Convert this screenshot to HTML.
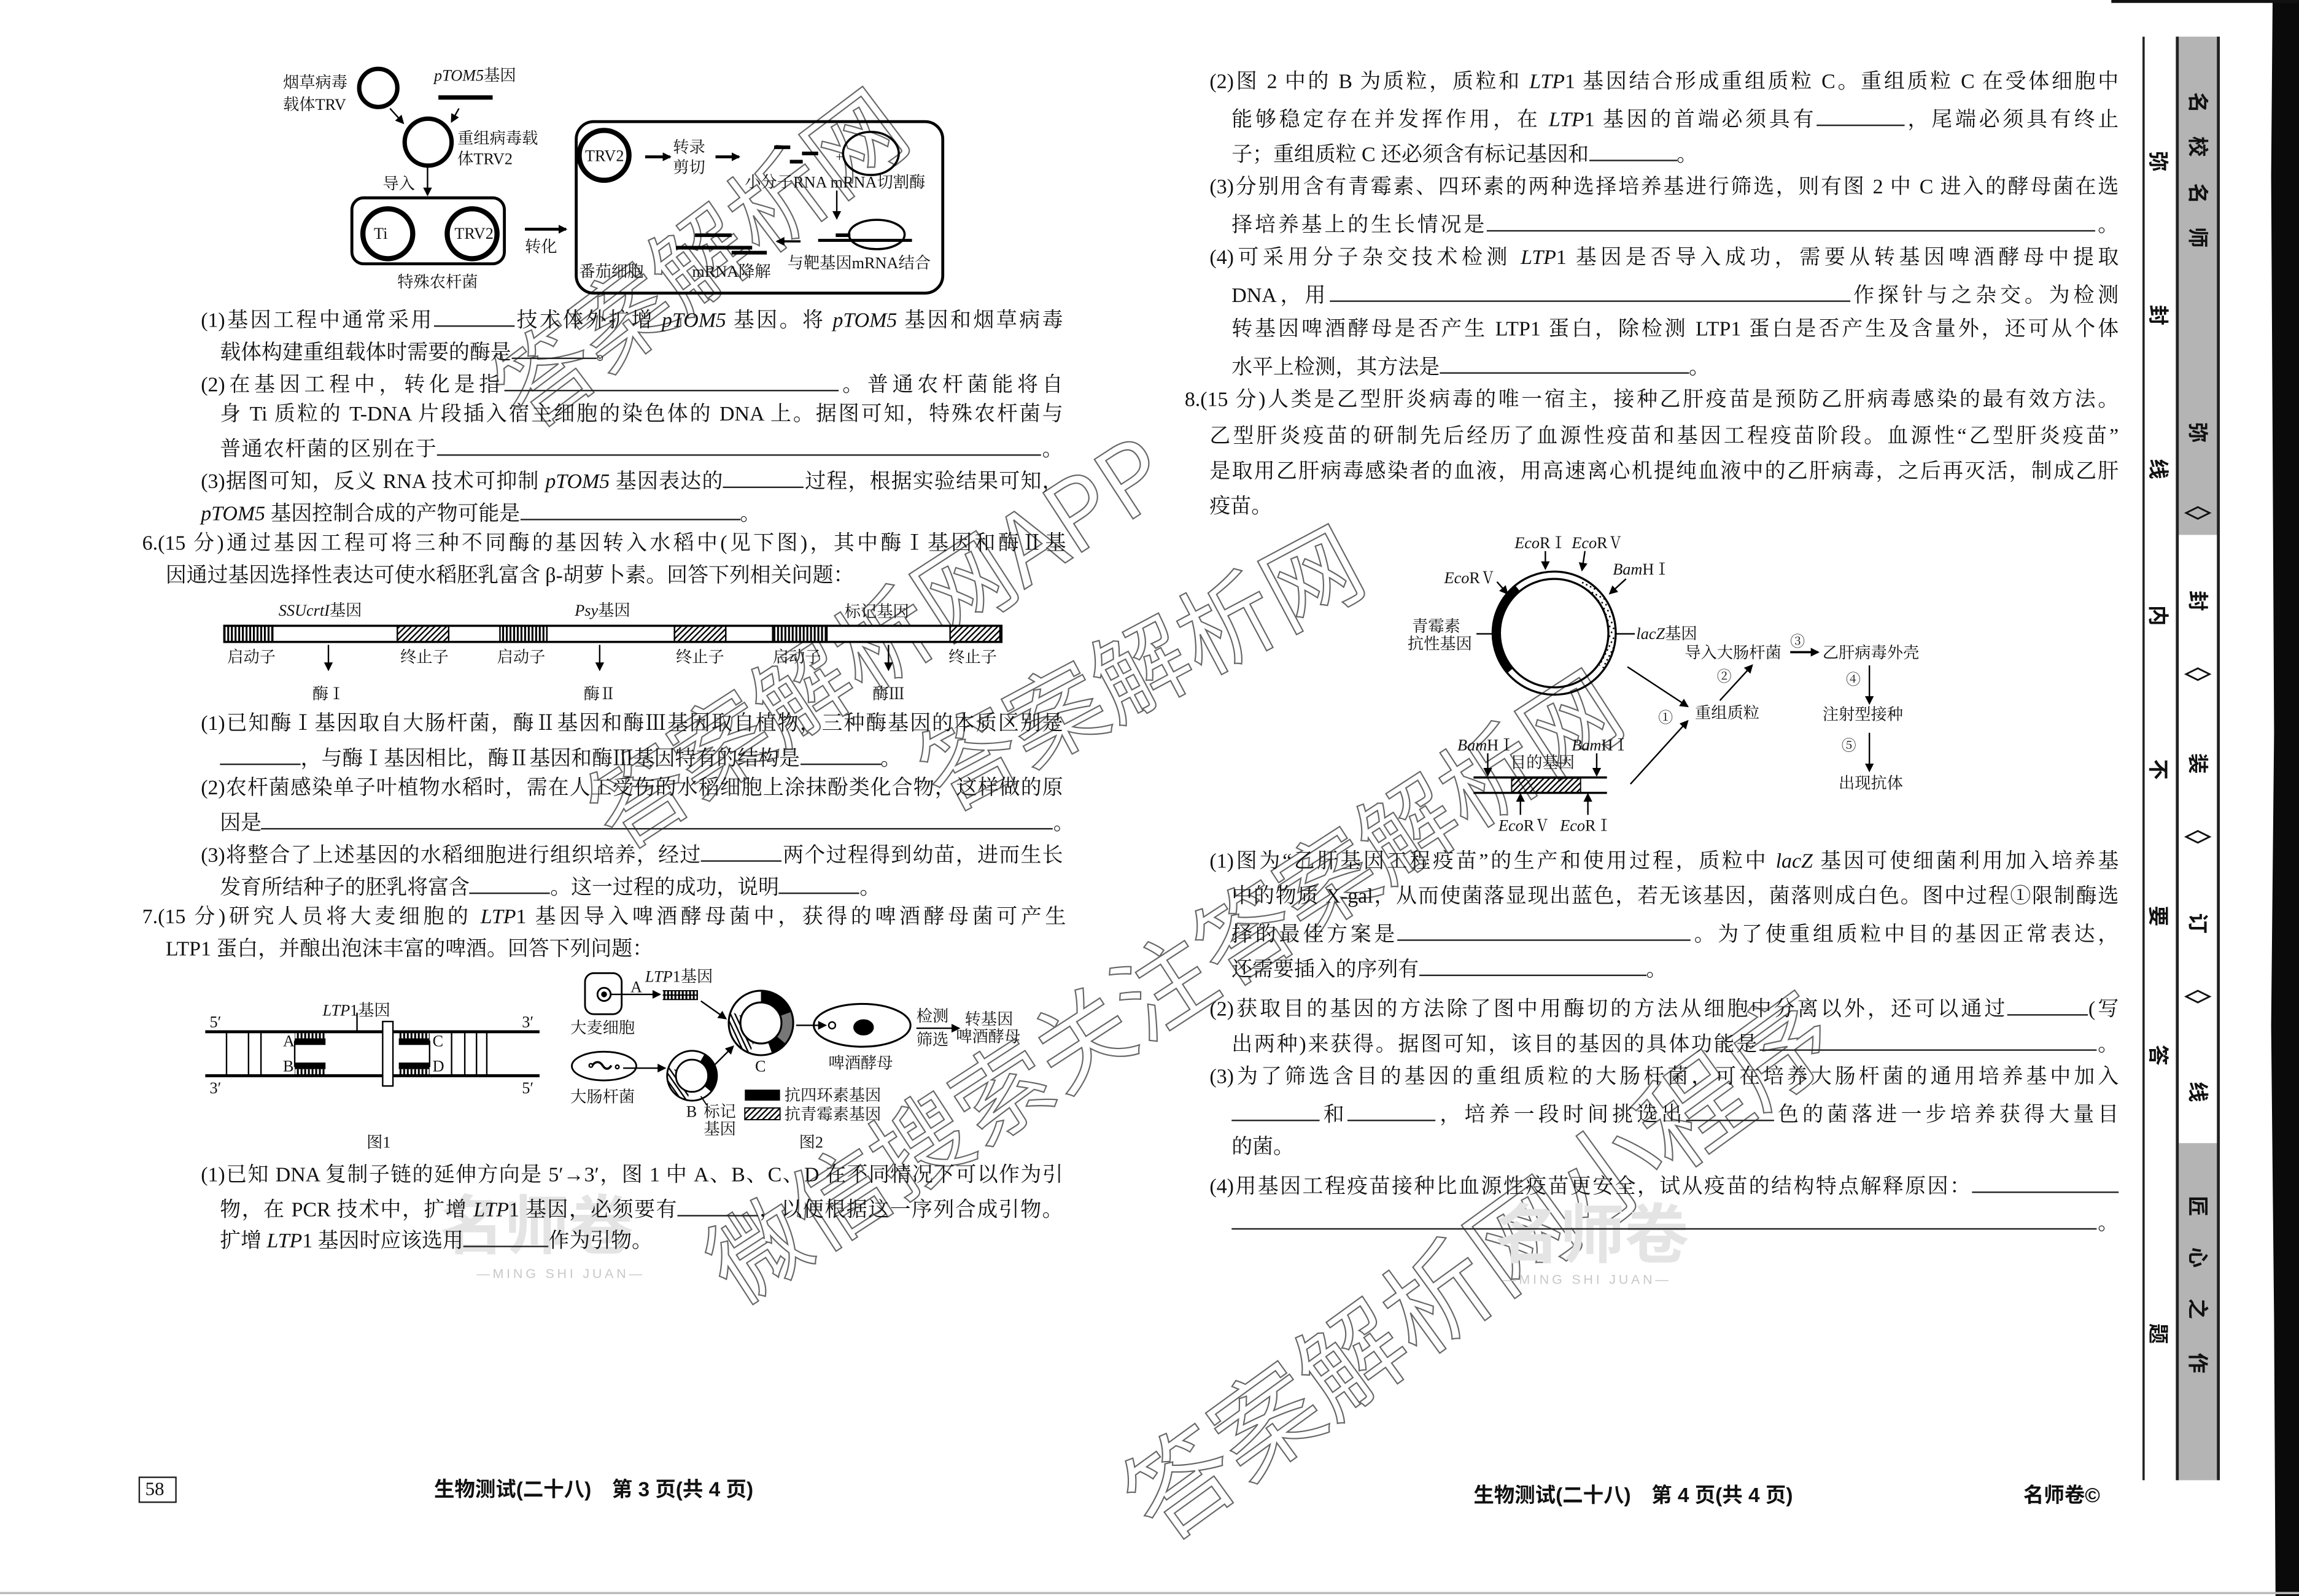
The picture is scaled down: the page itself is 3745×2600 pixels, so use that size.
<!DOCTYPE html>
<html><head><meta charset="utf-8">
<style>
html,body{margin:0;padding:0;background:#fff;}
body{width:3745px;height:2600px;overflow:hidden;position:relative;}
#s{position:absolute;left:0;top:0;width:1568px;height:1089px;transform:scale(2.38839,2.38751);transform-origin:0 0;font-family:"Liberation Serif","Noto Serif CJK SC",serif;color:#111;}
.t{position:absolute;white-space:nowrap;font-size:14.2px;line-height:18px;height:18px;}
.j{text-align:justify;text-align-last:justify;}
.b{display:inline-block;border-bottom:1px solid #222;height:14px;vertical-align:baseline;}
i{font-style:italic;}
svg{position:absolute;left:0;top:0;}
.sb{position:absolute;font-family:"Liberation Sans","Noto Sans CJK SC",sans-serif;font-size:14px;font-weight:bold;transform:rotate(90deg);width:16px;text-align:center;line-height:16px;}
.band{position:absolute;left:1485px;width:28px;}
</style></head><body><div id="s">

<svg width="1568" height="1089" viewBox="0 0 1568 1089" font-family="Liberation Serif, Noto Serif CJK SC, serif">
<defs>
<pattern id="h" width="4" height="4" patternUnits="userSpaceOnUse"><path d="M-1,1 l2,-2 M0,4 l4,-4 M3,5 l2,-2" stroke="#000" stroke-width="1"/></pattern>
<pattern id="v" width="2.5" height="4" patternUnits="userSpaceOnUse"><rect width="1.3" height="4" fill="#000"/></pattern>
<pattern id="d" width="3" height="3" patternUnits="userSpaceOnUse"><rect width="3" height="3" fill="#fff"/><circle cx="1.5" cy="1.5" r="0.6" fill="#000"/></pattern>
<marker id="a" markerWidth="6" markerHeight="6" refX="5" refY="3" orient="auto" markerUnits="userSpaceOnUse"><path d="M0,0 L6,3 L0,6 z" fill="#000"/></marker>
</defs>

<g font-family="Noto Sans CJK SC, sans-serif" fill="none" stroke="#666" stroke-width="0.9" font-size="66">
<text x="480" y="200" text-anchor="middle" transform="rotate(-37 480 180)">答案解析网</text>
<text x="600" y="462" text-anchor="middle" transform="rotate(-33 600 440)">答案解析网APP</text>
<text x="780" y="480" text-anchor="middle" transform="rotate(-28 780 460)">答案解析网</text>
<text x="795" y="697" text-anchor="middle" transform="rotate(-33 795 675)">微信搜索关注答案解析网</text>
<text x="1010" y="890" text-anchor="middle" font-size="72" transform="rotate(-36 1010 865)">答案解析网小程序</text>
</g>
<g fill="#e4e4e4" font-family="Noto Sans CJK SC, sans-serif" font-weight="bold">
<text x="300" y="852" font-size="44">名师卷</text>
<text x="1020" y="858" font-size="44">名师卷</text>
</g>
<g fill="#c8c8c8" font-family="Liberation Sans, sans-serif" font-size="9" letter-spacing="2">
<text x="325" y="872">—MING SHI JUAN—</text>
<text x="1025" y="876">—MING SHI JUAN—</text>
</g>

<g stroke="#000" fill="none">
<circle cx="258" cy="60" r="13" stroke-width="3"/>
<line x1="299" y1="66.5" x2="336" y2="66.5" stroke-width="3"/>
<line x1="266" y1="74" x2="275" y2="84" marker-end="url(#a)"/>
<line x1="313" y1="74" x2="308" y2="83" marker-end="url(#a)"/>
<circle cx="292" cy="97" r="16" stroke-width="3"/>
<line x1="291.6" y1="114" x2="291.6" y2="133" marker-end="url(#a)"/>
<rect x="240" y="135" width="104" height="45" rx="8" stroke-width="2"/>
<circle cx="264.5" cy="159.5" r="17" stroke-width="3.5"/>
<circle cx="322" cy="159.5" r="17" stroke-width="3.5"/>
<line x1="358" y1="156.4" x2="386" y2="156.4" stroke-width="2" marker-end="url(#a)"/>
<rect x="393" y="83" width="250" height="117" rx="12" stroke-width="2"/>
<circle cx="412" cy="106" r="17" stroke-width="3.5"/>
<line x1="440" y1="107" x2="457" y2="107" stroke-width="2" marker-end="url(#a)"/>
<line x1="488" y1="107" x2="504" y2="107" stroke-width="2" marker-end="url(#a)"/>
<g stroke-width="2.5"><line x1="528" y1="100.5" x2="539" y2="100.5"/><line x1="547" y1="104.7" x2="558" y2="104.7"/><line x1="538.7" y1="110.3" x2="547.5" y2="110.3"/></g>
<ellipse cx="594" cy="104.7" rx="19" ry="14.7" stroke-width="1.5"/>
<line x1="570.7" y1="130" x2="570.7" y2="149" marker-end="url(#a)"/>
<ellipse cx="598" cy="160" rx="19" ry="10" stroke-width="1.5"/>
<line x1="558" y1="164" x2="622" y2="164" stroke-width="2"/>
<line x1="570" y1="160.5" x2="580" y2="160.5" stroke-width="2.5"/>
<line x1="546" y1="164.7" x2="530" y2="164.7" stroke-width="1.5" marker-end="url(#a)"/>
<g stroke-width="2.5"><line x1="474" y1="160.5" x2="499" y2="160.5"/><line x1="461" y1="169" x2="513" y2="169"/><line x1="499" y1="172.4" x2="523" y2="172.4"/></g>
</g>
<g font-size="11" fill="#111">
<text x="193" y="60">烟草病毒</text><text x="193" y="75">载体TRV</text>
<text x="296" y="55" font-style="italic">pTOM5<tspan font-style="normal">基因</tspan></text>
<text x="312" y="98">重组病毒载</text><text x="312" y="112">体TRV2</text>
<text x="261" y="129">导入</text>
<text x="255" y="163">Ti</text><text x="310" y="163">TRV2</text>
<text x="271" y="196">特殊农杆菌</text>
<text x="358" y="172">转化</text>
<text x="399" y="110">TRV2</text>
<text x="459" y="104">转录</text><text x="459" y="118">剪切</text>
<text x="570" y="110" font-size="9">+</text>
<text x="508" y="128">小分子RNA mRNA切割酶</text>
<text x="395" y="189">番茄细胞</text>
<text x="472" y="189">mRNA降解</text>
<text x="537" y="183">与靶基因mRNA结合</text>
</g>

<rect x="153" y="427" width="530" height="11" fill="#fff" stroke="#000" stroke-width="1.5"/>
<g stroke="#000" stroke-width="1">
<rect x="153" y="427" width="33" height="11" fill="url(#v)"/>
<rect x="341" y="427" width="32" height="11" fill="url(#v)"/>
<rect x="527" y="427" width="37" height="11" fill="url(#v)"/>
<rect x="271" y="427" width="35" height="11" fill="url(#h)"/>
<rect x="460" y="427" width="35" height="11" fill="url(#h)"/>
<rect x="648" y="427" width="34" height="11" fill="url(#h)"/>
<line x1="224" y1="440" x2="224" y2="457" marker-end="url(#a)"/>
<line x1="409" y1="440" x2="409" y2="457" marker-end="url(#a)"/>
<line x1="606" y1="440" x2="606" y2="457" marker-end="url(#a)"/>
</g>
<g font-size="11" fill="#111">
<text x="190" y="420" font-style="italic">SSUcrtI<tspan font-style="normal">基因</tspan></text>
<text x="392" y="420" font-style="italic">Psy<tspan font-style="normal">基因</tspan></text>
<text x="576" y="421">标记基因</text>
<text x="155" y="452">启动子</text><text x="273" y="452">终止子</text>
<text x="339" y="452">启动子</text><text x="461" y="452">终止子</text>
<text x="527" y="452">启动子</text><text x="647" y="452">终止子</text>
<text x="213" y="477">酶Ⅰ</text><text x="398" y="477">酶Ⅱ</text><text x="595" y="477">酶Ⅲ</text>
</g>

<g stroke="#000">
<line x1="140" y1="704" x2="368" y2="704" stroke-width="2"/>
<line x1="140" y1="734" x2="368" y2="734" stroke-width="2"/>
<g stroke-width="1">
<line x1="154.5" y1="704" x2="154.5" y2="734"/><line x1="169.5" y1="704" x2="169.5" y2="734"/><line x1="178" y1="704" x2="178" y2="734"/>
<line x1="308" y1="704" x2="308" y2="734"/><line x1="317" y1="704" x2="317" y2="734"/><line x1="325" y1="704" x2="325" y2="734"/><line x1="332" y1="704" x2="332" y2="734"/>
<line x1="201" y1="710" x2="201" y2="728"/><line x1="293" y1="710" x2="293" y2="728"/>
<line x1="243.5" y1="691" x2="243.5" y2="704"/>
</g>
<rect x="201" y="705" width="21" height="3.5" fill="url(#v)" stroke="none"/>
<rect x="201" y="708.5" width="21" height="4.5" fill="#000" stroke="none"/>
<rect x="201" y="725" width="21" height="4.5" fill="#000" stroke="none"/>
<rect x="201" y="729.5" width="21" height="3.5" fill="url(#v)" stroke="none"/>
<rect x="272" y="705" width="21" height="3.5" fill="url(#v)" stroke="none"/>
<rect x="272" y="708.5" width="21" height="4.5" fill="#000" stroke="none"/>
<rect x="272" y="725" width="21" height="4.5" fill="#000" stroke="none"/>
<rect x="272" y="729.5" width="21" height="3.5" fill="url(#v)" stroke="none"/>
<rect x="261" y="697" width="7" height="44" fill="#fff" stroke-width="1"/>
</g>
<g font-size="11" fill="#111">
<text x="143" y="701">5′</text><text x="356" y="701">3′</text>
<text x="143" y="746">3′</text><text x="356" y="746">5′</text>
<text x="193" y="714">A</text><text x="193" y="731">B</text>
<text x="295" y="714">C</text><text x="295" y="731">D</text>
<text x="220" y="693"><tspan font-style="italic">LTP</tspan>1基因</text>
<text x="250" y="783">图1</text>
</g>

<g stroke="#000" fill="none">
<rect x="399" y="664" width="25" height="28" rx="6" stroke-width="1.2"/>
<circle cx="412" cy="678.5" r="4.5" stroke-width="1.2"/><circle cx="412" cy="678.5" r="1.5" fill="#000"/>
<line x1="417" y1="678.5" x2="450" y2="678.5" marker-end="url(#a)"/>
<rect x="452" y="676" width="24" height="6" fill="url(#v)" stroke="none"/>
<line x1="452" y1="676" x2="476" y2="676" stroke-width="0.8"/><line x1="452" y1="679" x2="476" y2="679" stroke-width="0.8"/><line x1="452" y1="682" x2="476" y2="682" stroke-width="0.8"/>
<line x1="478" y1="683" x2="495" y2="695" marker-end="url(#a)"/>
<circle cx="519" cy="698" r="18" stroke="#fff" stroke-width="8"/>
<circle cx="519" cy="698" r="18" stroke="#000" stroke-width="8" stroke-dasharray="22 200" transform="rotate(-90 519 698)"/>
<circle cx="519" cy="698" r="18" stroke="#777" stroke-width="8" stroke-dasharray="18.8 200" transform="rotate(-20 519 698)"/>
<circle cx="519" cy="698" r="18" stroke="#000" stroke-width="8" stroke-dasharray="9.4 200" transform="rotate(40 519 698)"/>
<circle cx="519" cy="698" r="18" stroke="url(#h)" stroke-width="8" stroke-dasharray="28.3 200" transform="rotate(110 519 698)"/>
<circle cx="519" cy="698" r="22" stroke-width="1.3"/><circle cx="519" cy="698" r="14" stroke-width="1.3"/>
<line x1="543" y1="699.6" x2="563" y2="699.6" marker-end="url(#a)"/>
<circle cx="567.5" cy="699.6" r="2.3" stroke-width="1"/>
<ellipse cx="588" cy="699.6" rx="33" ry="14.6" stroke-width="1.3"/>
<ellipse cx="589" cy="701" rx="6.5" ry="5" fill="#000"/>
<line x1="625" y1="701.6" x2="654" y2="701.6" marker-end="url(#a)"/>
<ellipse cx="412" cy="727.4" rx="22" ry="9.8" stroke-width="1.2"/>
<path d="M404,727 c2,-3 5,-3 7,0 s4,3 6,0" stroke-width="1.5"/><circle cx="403" cy="727" r="1.2"/><circle cx="421" cy="728" r="1.2"/>
<line x1="425" y1="728.8" x2="453.5" y2="728.8" marker-end="url(#a)"/>
<circle cx="472" cy="734" r="14" stroke="#000" stroke-width="6" stroke-dasharray="24.4 200" transform="rotate(-60 472 734)"/>
<circle cx="472" cy="734" r="14" stroke="url(#h)" stroke-width="6" stroke-dasharray="24.4 200" transform="rotate(100 472 734)"/>
<circle cx="472" cy="734" r="17" stroke-width="1.2"/><circle cx="472" cy="734" r="11" stroke-width="1.2"/>
<line x1="487" y1="727" x2="500" y2="714" marker-end="url(#a)"/>
<line x1="478" y1="748" x2="482" y2="754" stroke-width="0.8"/>
<rect x="508" y="743.5" width="24" height="7.5" fill="#000" stroke="none"/>
<rect x="508" y="756" width="24" height="8" fill="url(#h)" stroke-width="0.8"/>
</g>
<g font-size="11" fill="#111">
<text x="430" y="677">A</text>
<text x="440" y="670"><tspan font-style="italic">LTP</tspan>1基因</text>
<text x="389" y="705">大麦细胞</text>
<text x="389" y="752">大肠杆菌</text>
<text x="515" y="731">C</text>
<text x="565" y="729">啤酒酵母</text>
<text x="625" y="697">检测</text><text x="625" y="713">筛选</text>
<text x="658" y="699">转基因</text><text x="652" y="711">啤酒酵母</text>
<text x="468" y="762">B</text><text x="480" y="762">标记</text><text x="480" y="774">基因</text>
<text x="535" y="751">抗四环素基因</text><text x="535" y="764">抗青霉素基因</text>
<text x="545" y="783">图2</text>
</g>

<g stroke="#000" fill="none">
<circle cx="1060" cy="432" r="39.5" stroke="#000" stroke-width="5" stroke-dasharray="62.9 400" transform="rotate(139.5 1060 432)"/>
<circle cx="1060" cy="432" r="39.5" stroke="url(#d)" stroke-width="5" stroke-dasharray="67.7 400" transform="rotate(-62.6 1060 432)"/>
<circle cx="1060" cy="432" r="42" stroke-width="1.4"/><circle cx="1060" cy="432" r="37" stroke-width="1.4"/>
<line x1="1054" y1="376" x2="1054" y2="388" marker-end="url(#a)"/>
<line x1="1081" y1="376" x2="1079" y2="389" marker-end="url(#a)"/>
<line x1="1021" y1="397" x2="1028" y2="405" marker-end="url(#a)"/>
<line x1="1109" y1="395" x2="1098" y2="405" marker-end="url(#a)"/>
<line x1="1007" y1="432.5" x2="1018" y2="432.5"/>
<line x1="1102" y1="432.5" x2="1115" y2="432.5"/>
<line x1="1221" y1="445" x2="1240" y2="445" stroke-width="1.5" marker-end="url(#a)"/>
<line x1="1275" y1="454" x2="1275" y2="480" marker-end="url(#a)"/>
<line x1="1275" y1="500" x2="1275" y2="526" marker-end="url(#a)"/>
<line x1="1110" y1="455" x2="1151" y2="482" marker-end="url(#a)"/>
<line x1="1112" y1="535" x2="1151" y2="492" marker-end="url(#a)"/>
<line x1="1173" y1="478" x2="1195" y2="454" marker-end="url(#a)"/>
<line x1="1005" y1="530.5" x2="1096" y2="530.5" stroke-width="1.5"/>
<line x1="1005" y1="541" x2="1096" y2="541" stroke-width="1.5"/>
<rect x="1031" y="531" width="47" height="10" fill="url(#h)" stroke-width="0.8"/>
<line x1="1014.7" y1="514" x2="1014.7" y2="529" marker-end="url(#a)"/>
<line x1="1089" y1="514" x2="1089" y2="529" marker-end="url(#a)"/>
<line x1="1037" y1="556" x2="1037" y2="542" marker-end="url(#a)"/>
<line x1="1083" y1="556" x2="1083" y2="542" marker-end="url(#a)"/>
</g>
<g font-size="11" fill="#111">
<text x="1033" y="374"><tspan font-style="italic">Eco</tspan>RⅠ</text>
<text x="1072" y="374"><tspan font-style="italic">Eco</tspan>RⅤ</text>
<text x="985" y="398"><tspan font-style="italic">Eco</tspan>RⅤ</text>
<text x="1100" y="392"><tspan font-style="italic">Bam</tspan>HⅠ</text>
<text x="963" y="431">青霉素</text><text x="960" y="443">抗性基因</text>
<text x="1116" y="436"><tspan font-style="italic">lacZ</tspan>基因</text>
<text x="1149" y="449">导入大肠杆菌</text>
<text x="1221" y="441" font-size="10">③</text>
<text x="1243" y="449">乙肝病毒外壳</text>
<text x="1259" y="467" font-size="10">④</text>
<text x="1243" y="491">注射型接种</text>
<text x="1256" y="512" font-size="10">⑤</text>
<text x="1254" y="538">出现抗体</text>
<text x="1156" y="490">重组质粒</text>
<text x="1131" y="493" font-size="10">①</text>
<text x="1171" y="465" font-size="10">②</text>
<text x="994" y="512"><tspan font-style="italic">Bam</tspan>HⅠ</text>
<text x="1072" y="512"><tspan font-style="italic">Bam</tspan>HⅠ</text>
<text x="1030" y="524">目的基因</text>
<text x="1022" y="567"><tspan font-style="italic">Eco</tspan>RⅤ</text>
<text x="1064" y="567"><tspan font-style="italic">Eco</tspan>RⅠ</text>
</g>

<line x1="1462" y1="25" x2="1462" y2="1010" stroke="#222" stroke-width="1.5"/>
<path d="M1550,0 L1568,0 L1568,1089 L1552,1089 L1551,900 L1549,700 L1551,500 L1550,300 L1549,120 Z" fill="#0a0a0a"/>
<line x1="1440" y1="1" x2="1568" y2="1" stroke="#111" stroke-width="2"/>
<line x1="0" y1="1087" x2="1568" y2="1087" stroke="#bbb" stroke-width="1.5"/>
<rect x="95" y="1008" width="25" height="17" fill="none" stroke="#222" stroke-width="1"/>
</svg>

<!-- sidebar band as html -->
<div class="band" style="top:25px;height:340px;background:#b4b4b4"></div>
<div class="band" style="top:365px;height:415px;background:#ffffff"></div>
<div class="band" style="top:780px;height:230px;background:#b4b4b4"></div>
<div style="position:absolute;left:1484px;top:25px;width:2px;height:985px;background:#222"></div>
<div style="position:absolute;left:1512px;top:25px;width:2px;height:985px;background:#222"></div>
<svg width="1568" height="1089" viewBox="0 0 1568 1089" style="pointer-events:none">
<g fill="none" stroke="#111" stroke-width="1.2">
<path d="M1491,350 l8,-4 l8,4 l-8,4 z"/><path d="M1491,460 l8,-4 l8,4 l-8,4 z"/>
<path d="M1491,571 l8,-4 l8,4 l-8,4 z"/><path d="M1491,680 l8,-4 l8,4 l-8,4 z"/>
</g>
</svg>

<div class="sb" style="left:1491px;top:62px">名</div>
<div class="sb" style="left:1491px;top:92px">校</div>
<div class="sb" style="left:1491px;top:124px">名</div>
<div class="sb" style="left:1491px;top:154px">师</div>
<div class="sb" style="left:1491px;top:287px">弥</div>
<div class="sb" style="left:1491px;top:402px">封</div>
<div class="sb" style="left:1491px;top:513px">装</div>
<div class="sb" style="left:1491px;top:622px">订</div>
<div class="sb" style="left:1491px;top:737px">线</div>
<div class="sb" style="left:1491px;top:815px">匠</div>
<div class="sb" style="left:1491px;top:850px">心</div>
<div class="sb" style="left:1491px;top:885px">之</div>
<div class="sb" style="left:1491px;top:922px">作</div>
<div class="sb" style="left:1464px;top:102px">弥</div>
<div class="sb" style="left:1464px;top:207px">封</div>
<div class="sb" style="left:1464px;top:312px">线</div>
<div class="sb" style="left:1464px;top:412px">内</div>
<div class="sb" style="left:1464px;top:517px">不</div>
<div class="sb" style="left:1464px;top:617px">要</div>
<div class="sb" style="left:1464px;top:712px">答</div>
<div class="sb" style="left:1464px;top:902px">题</div>

<div class="t j" style="left:137px;top:208px;width:588px">(1)基因工程中通常采用<span class="b" style="width:55px"></span>技术体外扩增 <i>pTOM5</i> 基因。将 <i>pTOM5</i> 基因和烟草病毒</div>
<div class="t" style="left:150px;top:230px">载体构建重组载体时需要的酶是<span class="b" style="width:58px"></span>。</div>
<div class="t j" style="left:137px;top:252px;width:588px">(2)在基因工程中，转化是指<span class="b" style="width:228px"></span>。普通农杆菌能将自</div>
<div class="t j" style="left:150px;top:274px;width:575px">身 Ti 质粒的 T-DNA 片段插入宿主细胞的染色体的 DNA 上。据图可知，特殊农杆菌与</div>
<div class="t j" style="left:150px;top:296px;width:575px">普通农杆菌的区别在于<span class="b" style="width:412px"></span>。</div>
<div class="t j" style="left:137px;top:318px;width:588px">(3)据图可知，反义 RNA 技术可抑制 <i>pTOM5</i> 基因表达的<span class="b" style="width:55px"></span>过程，根据实验结果可知，</div>
<div class="t" style="left:137px;top:340px"><i>pTOM5</i> 基因控制合成的产物可能是<span class="b" style="width:150px"></span>。</div>
<div class="t j" style="left:97px;top:362px;width:630px">6.(15 分)通过基因工程可将三种不同酶的基因转入水稻中(见下图)，其中酶Ⅰ基因和酶Ⅱ基</div>
<div class="t" style="left:113px;top:384px">因通过基因选择性表达可使水稻胚乳富含 β-胡萝卜素。回答下列相关问题：</div>
<div class="t j" style="left:137px;top:485px;width:588px">(1)已知酶Ⅰ基因取自大肠杆菌，酶Ⅱ基因和酶Ⅲ基因取自植物，三种酶基因的本质区别是</div>
<div class="t" style="left:150px;top:507px"><span class="b" style="width:55px"></span>，与酶Ⅰ基因相比，酶Ⅱ基因和酶Ⅲ基因特有的结构是<span class="b" style="width:55px"></span>。</div>
<div class="t j" style="left:137px;top:529px;width:588px">(2)农杆菌感染单子叶植物水稻时，需在人工受伤的水稻细胞上涂抹酚类化合物，这样做的原</div>
<div class="t j" style="left:150px;top:551px;width:575px">因是<span class="b" style="width:540px"></span>。</div>
<div class="t j" style="left:137px;top:573px;width:588px">(3)将整合了上述基因的水稻细胞进行组织培养，经过<span class="b" style="width:55px"></span>两个过程得到幼苗，进而生长</div>
<div class="t" style="left:150px;top:595px">发育所结种子的胚乳将富含<span class="b" style="width:55px"></span>。这一过程的成功，说明<span class="b" style="width:55px"></span>。</div>
<div class="t j" style="left:97px;top:617px;width:630px">7.(15 分)研究人员将大麦细胞的 <i>LTP</i>1 基因导入啤酒酵母菌中，获得的啤酒酵母菌可产生</div>
<div class="t" style="left:113px;top:639px">LTP1 蛋白，并酿出泡沫丰富的啤酒。回答下列问题：</div>
<div class="t j" style="left:137px;top:793px;width:588px">(1)已知 DNA 复制子链的延伸方向是 5′→3′，图 1 中 A、B、C、D 在不同情况下可以作为引</div>
<div class="t j" style="left:150px;top:815px;width:575px">物，在 PCR 技术中，扩增 <i>LTP</i>1 基因，必须要有<span class="b" style="width:55px"></span>，以便根据这一序列合成引物。</div>
<div class="t" style="left:150px;top:836px">扩增 <i>LTP</i>1 基因时应该选用<span class="b" style="width:58px"></span>作为引物。</div>

<div class="t j" style="left:825px;top:47px;width:620px">(2)图 2 中的 B 为质粒，质粒和 <i>LTP</i>1 基因结合形成重组质粒 C。重组质粒 C 在受体细胞中</div>
<div class="t j" style="left:840px;top:71px;width:605px">能够稳定存在并发挥作用，在 <i>LTP</i>1 基因的首端必须具有<span class="b" style="width:60px"></span>，尾端必须具有终止</div>
<div class="t" style="left:840px;top:95px">子；重组质粒 C 还必须含有标记基因和<span class="b" style="width:60px"></span>。</div>
<div class="t j" style="left:825px;top:119px;width:620px">(3)分别用含有青霉素、四环素的两种选择培养基进行筛选，则有图 2 中 C 进入的酵母菌在选</div>
<div class="t j" style="left:840px;top:143px;width:605px">择培养基上的生长情况是<span class="b" style="width:415px"></span>。</div>
<div class="t j" style="left:825px;top:167px;width:620px">(4)可采用分子杂交技术检测 <i>LTP</i>1 基因是否导入成功，需要从转基因啤酒酵母中提取</div>
<div class="t j" style="left:840px;top:191px;width:605px">DNA，用<span class="b" style="width:355px"></span>作探针与之杂交。为检测</div>
<div class="t j" style="left:840px;top:216px;width:605px">转基因啤酒酵母是否产生 LTP1 蛋白，除检测 LTP1 蛋白是否产生及含量外，还可从个体</div>
<div class="t" style="left:840px;top:240px">水平上检测，其方法是<span class="b" style="width:170px"></span>。</div>
<div class="t j" style="left:808px;top:264px;width:637px">8.(15 分)人类是乙型肝炎病毒的唯一宿主，接种乙肝疫苗是预防乙肝病毒感染的最有效方法。</div>
<div class="t j" style="left:825px;top:289px;width:620px">乙型肝炎疫苗的研制先后经历了血源性疫苗和基因工程疫苗阶段。血源性“乙型肝炎疫苗”</div>
<div class="t j" style="left:825px;top:313px;width:620px">是取用乙肝病毒感染者的血液，用高速离心机提纯血液中的乙肝病毒，之后再灭活，制成乙肝</div>
<div class="t" style="left:825px;top:337px">疫苗。</div>
<div class="t j" style="left:825px;top:579px;width:620px">(1)图为“乙肝基因工程疫苗”的生产和使用过程，质粒中 <i>lacZ</i> 基因可使细菌利用加入培养基</div>
<div class="t j" style="left:840px;top:603px;width:605px">中的物质 X-gal，从而使菌落显现出蓝色，若无该基因，菌落则成白色。图中过程①限制酶选</div>
<div class="t j" style="left:840px;top:627px;width:605px">择的最佳方案是<span class="b" style="width:200px"></span>。为了使重组质粒中目的基因正常表达，</div>
<div class="t" style="left:840px;top:651px">还需要插入的序列有<span class="b" style="width:155px"></span>。</div>
<div class="t j" style="left:825px;top:678px;width:620px">(2)获取目的基因的方法除了图中用酶切的方法从细胞中分离以外，还可以通过<span class="b" style="width:55px"></span>(写</div>
<div class="t j" style="left:840px;top:702px;width:605px">出两种)来获得。据图可知，该目的基因的具体功能是<span class="b" style="width:230px"></span>。</div>
<div class="t j" style="left:825px;top:726px;width:620px">(3)为了筛选含目的基因的重组质粒的大肠杆菌，可在培养大肠杆菌的通用培养基中加入</div>
<div class="t j" style="left:840px;top:750px;width:605px"><span class="b" style="width:60px"></span>和<span class="b" style="width:60px"></span>，培养一段时间挑选出<span class="b" style="width:60px"></span>色的菌落进一步培养获得大量目</div>
<div class="t" style="left:840px;top:774px">的菌。</div>
<div class="t j" style="left:825px;top:799px;width:620px">(4)用基因工程疫苗接种比血源性疫苗更安全，试从疫苗的结构特点解释原因：<span class="b" style="width:100px"></span></div>
<div class="t j" style="left:840px;top:824px;width:605px"><span class="b" style="width:590px"></span>。</div>

<div class="t" style="left:99px;top:1007px;font-size:13px">58</div>
<div class="t" style="left:296px;top:1007px;font-weight:bold;font-size:14px;font-family:'Liberation Sans','Noto Sans CJK SC',sans-serif">生物测试(二十八)　第 3 页(共 4 页)</div>
<div class="t" style="left:1005px;top:1011px;font-weight:bold;font-size:14px;font-family:'Liberation Sans','Noto Sans CJK SC',sans-serif">生物测试(二十八)　第 4 页(共 4 页)</div>
<div class="t" style="left:1380px;top:1011px;font-weight:bold;font-size:14px;font-family:'Liberation Sans','Noto Sans CJK SC',sans-serif">名师卷©</div>

</div></body></html>
